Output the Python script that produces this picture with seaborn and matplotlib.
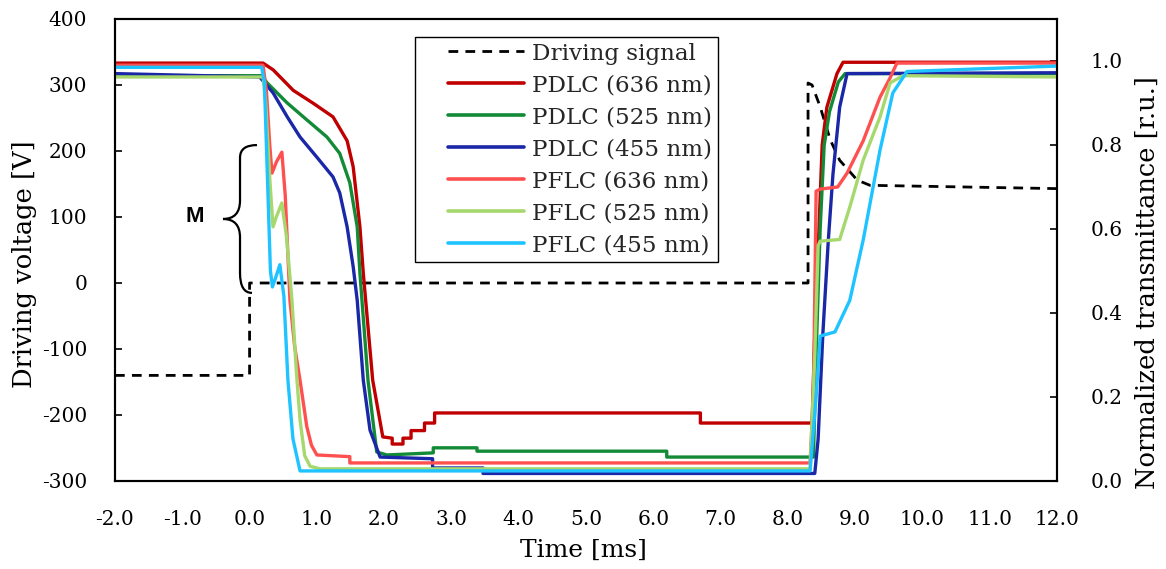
import numpy as np
import pandas as pd
import matplotlib
matplotlib.use("Agg")
import matplotlib.pyplot as plt
import seaborn as sns
from matplotlib.lines import Line2D
from matplotlib.path import Path
from matplotlib.patches import PathPatch
from matplotlib.ticker import FormatStrFormatter
from matplotlib.legend_handler import HandlerLine2D

# ---------------- data ----------------
drive_t = [-2.0, 0.0, 0.0, 8.30, 8.30, 8.36, 8.48, 8.63, 8.77, 9.03, 9.22, 12.0]
drive_v = [-140, -140, 0, 0, 303, 300, 267, 217, 186, 156, 148, 143]

pdlc636_t = [-2.0, 0.20, 0.35, 0.65, 0.94, 1.24, 1.45, 1.54, 1.64, 1.69, 1.83, 1.98, 2.12, 2.12, 2.28, 2.28,
             2.40, 2.40, 2.60, 2.60, 2.75, 2.75, 6.70, 6.70, 8.36, 8.40, 8.45, 8.51, 8.58, 8.73, 8.82, 12.0]
pdlc636_T = [0.995, 0.995, 0.979, 0.93, 0.90, 0.867, 0.81, 0.748, 0.605, 0.495, 0.24, 0.105, 0.102, 0.088, 0.088, 0.102,
             0.102, 0.12, 0.12, 0.138, 0.138, 0.162, 0.162, 0.138, 0.138, 0.35, 0.55, 0.80, 0.89, 0.97, 0.997, 0.997]

pdlc525_t = [-2.0, 0.18, 0.26, 0.56, 0.85, 1.15, 1.34, 1.49, 1.60, 1.64, 1.76, 1.89, 2.04, 2.73, 2.73,
             3.38, 3.38, 6.2, 6.2, 8.38, 8.42, 8.48, 8.54, 8.62, 8.75, 8.85, 12.0]
pdlc525_T = [0.965, 0.965, 0.948, 0.90, 0.86, 0.819, 0.78, 0.71, 0.605, 0.495, 0.24, 0.069, 0.062, 0.067, 0.079,
             0.079, 0.071, 0.071, 0.057, 0.057, 0.30, 0.60, 0.80, 0.88, 0.95, 0.97, 0.97]

pdlc455_t = [-2.0, 0.15, 0.35, 0.56, 0.75, 1.0, 1.24, 1.34, 1.45, 1.54, 1.60, 1.69, 1.79, 1.94, 2.72, 2.72,
             3.47, 3.47, 8.40, 8.45, 8.52, 8.60, 8.67, 8.77, 8.88, 12.0]
pdlc455_T = [0.97, 0.962, 0.924, 0.867, 0.819, 0.771, 0.724, 0.686, 0.605, 0.51, 0.43, 0.24, 0.121, 0.057, 0.053, 0.031,
             0.031, 0.018, 0.018, 0.10, 0.35, 0.57, 0.73, 0.89, 0.97, 0.972]

pflc636_t = [-2.0, 0.20, 0.25, 0.30, 0.333, 0.40, 0.48, 0.53, 0.60, 0.67, 0.75, 0.85, 0.92, 1.0, 1.49, 1.49,
             8.33, 8.38, 8.42, 8.48, 8.74, 8.88, 9.12, 9.37, 9.52, 9.62, 12.0]
pflc636_T = [0.99, 0.99, 0.93, 0.80, 0.733, 0.76, 0.783, 0.68, 0.43, 0.32, 0.24, 0.13, 0.085, 0.062, 0.058, 0.043,
             0.043, 0.2, 0.69, 0.695, 0.70, 0.733, 0.81, 0.914, 0.96, 0.995, 0.995]

pflc525_t = [-2.0, 0.20, 0.24, 0.30, 0.348, 0.40, 0.48, 0.55, 0.63, 0.70, 0.75, 0.82, 0.90, 1.05, 8.33, 8.40,
             8.45, 8.48, 8.77, 8.92, 9.12, 9.37, 9.52, 9.71, 12.0]
pflc525_T = [0.962, 0.962, 0.9, 0.72, 0.605, 0.63, 0.662, 0.58, 0.43, 0.25, 0.145, 0.06, 0.035, 0.029, 0.029, 0.3,
             0.56, 0.571, 0.575, 0.652, 0.764, 0.867, 0.948, 0.965, 0.962]

pflc455_t = [-2.0, 0.18, 0.22, 0.27, 0.31, 0.34, 0.40, 0.45, 0.51, 0.57, 0.645, 0.75, 8.33, 8.42, 8.48, 8.70,
             8.92, 9.12, 9.37, 9.56, 9.77, 12.0]
pflc455_T = [0.985, 0.985, 0.95, 0.70, 0.50, 0.462, 0.49, 0.515, 0.44, 0.24, 0.10, 0.024, 0.024, 0.2, 0.345, 0.355,
             0.43, 0.574, 0.788, 0.924, 0.975, 0.988]

series_names = ["PDLC (636 nm)", "PDLC (525 nm)", "PDLC (455 nm)",
                "PFLC (636 nm)", "PFLC (525 nm)", "PFLC (455 nm)"]
series_colors = ["#C00000", "#138A36", "#1A28A8", "#FF5050", "#A6D86E", "#1EC3FF"]
x_ticks = [-2.0, -1.0, 0.0, 1.0, 2.0, 3.0, 4.0, 5.0, 6.0, 7.0, 8.0, 9.0, 10.0, 11.0, 12.0]
yl_ticks = [-300, -200, -100, 0, 100, 200, 300, 400]
yr_ticks = [0.0, 0.2, 0.4, 0.6, 0.8, 1.0]

series_t = [pdlc636_t, pdlc525_t, pdlc455_t, pflc636_t, pflc525_t, pflc455_t]
series_T = [pdlc636_T, pdlc525_T, pdlc455_T, pflc636_T, pflc525_T, pflc455_T]

frames = []
for name, tt, TT in zip(series_names, series_t, series_T):
    frames.append(pd.DataFrame({"t": tt, "T": TT, "series": name}))
df = pd.concat(frames, ignore_index=True)
df_drive = pd.DataFrame({"t": drive_t, "V": drive_v})

# ---------------- style ----------------
sns.set_theme(style="white")
plt.rcParams["font.family"] = ["DejaVu Serif"]
plt.rcParams["axes.unicode_minus"] = False

fig = plt.figure(figsize=(11.66, 5.69), dpi=100)
ax = fig.add_axes([115 / 1166, 1 - 481 / 569, 942 / 1166, 462 / 569])
ax2 = ax.twinx()

DASH = (0, (3.5, 2.6))
sns.lineplot(data=df_drive, x="t", y="V", ax=ax, color="black", lw=2.0,
             linestyle=DASH, sort=False, estimator=None, legend=False)

sns.lineplot(data=df, x="t", y="T", hue="series", hue_order=series_names,
             palette=dict(zip(series_names, series_colors)), ax=ax2, lw=2.4,
             sort=False, estimator=None, legend=False)

ax.set_xlim(-2.0, 12.0)
ax.set_ylim(-300, 400)
ax2.set_ylim(0.0, 1.1)
ax.set_xticks(x_ticks)
ax.set_yticks(yl_ticks)
ax2.set_yticks(yr_ticks)
ax.xaxis.set_major_formatter(FormatStrFormatter("%.1f"))
ax.yaxis.set_major_formatter(FormatStrFormatter("%d"))
ax2.yaxis.set_major_formatter(FormatStrFormatter("%.1f"))

for a in (ax, ax2):
    for s in a.spines.values():
        s.set_color("black")
        s.set_linewidth(1.5)
ax.tick_params(axis="x", direction="in", length=5, width=1.2, color="black",
               labelsize=14.5, pad=21, labelcolor="black")
ax.tick_params(axis="y", direction="in", length=5, width=1.2, color="black",
               labelsize=14.5, pad=20, labelcolor="black")
ax2.tick_params(axis="y", direction="in", length=5, width=1.2, color="black",
                labelsize=14.5, pad=24, labelcolor="black")

ax.set_xlabel("Time [ms]", fontsize=18, color="black")
ax.set_ylabel("Driving voltage [V]", fontsize=18.5, color="black")
ax2.set_ylabel("Normalized transmittance [r.u.]", fontsize=18.5, color="black")
ax.xaxis.set_label_coords(0.497, -0.125)
ax.yaxis.set_label_coords(-0.083, 0.47)
ax2.yaxis.set_label_coords(1.083, 0.43)

# brace annotation "M"
verts = [(0.11, 209), (-0.142, 209), (-0.142, 190), (-0.142, 125),
         (-0.142, 97), (-0.395, 97), (-0.142, 97), (-0.142, 69),
         (-0.142, 15), (-0.142, -15), (0.036, -15)]
codes = [Path.MOVETO, Path.CURVE3, Path.CURVE3, Path.LINETO,
         Path.CURVE3, Path.CURVE3, Path.CURVE3, Path.CURVE3,
         Path.LINETO, Path.CURVE3, Path.CURVE3]
ax.add_patch(PathPatch(Path(verts, codes), fill=False, lw=1.6, edgecolor="black"))
ax.text(-0.82, 100, "M", fontsize=16, fontweight="bold", family="Liberation Sans",
        ha="center", va="center", color="black")


# legend: line drawn only on the right part of the handle box
class LeftPadHandler(HandlerLine2D):
    def __init__(self, frac=0.26, **kw):
        super().__init__(**kw)
        self.frac = frac

    def get_xdata(self, legend, xdescent, ydescent, width, height, fontsize):
        x0 = -xdescent + self.frac * width
        x1 = -xdescent + width
        xd = np.linspace(x0, x1, 2)
        return xd, xd


handles = [Line2D([], [], color="black", lw=2.0, linestyle=DASH)]
handles += [Line2D([], [], color=c, lw=2.6) for c in series_colors]
labels = ["Driving signal"] + series_names
leg = ax2.legend(handles, labels, loc="upper left", bbox_to_anchor=(415 / 1166, 1 - 37 / 569),
                 bbox_transform=fig.transFigure, fontsize=16.6, frameon=True, fancybox=False,
                 handlelength=4.5, handletextpad=0.35, labelspacing=0.43, borderpad=0.24,
                 borderaxespad=0, handler_map={Line2D: LeftPadHandler()})
leg.get_frame().set_edgecolor("black")
leg.get_frame().set_linewidth(1.0)
leg.get_frame().set_alpha(1)

fig.savefig("out.png", dpi=100)
